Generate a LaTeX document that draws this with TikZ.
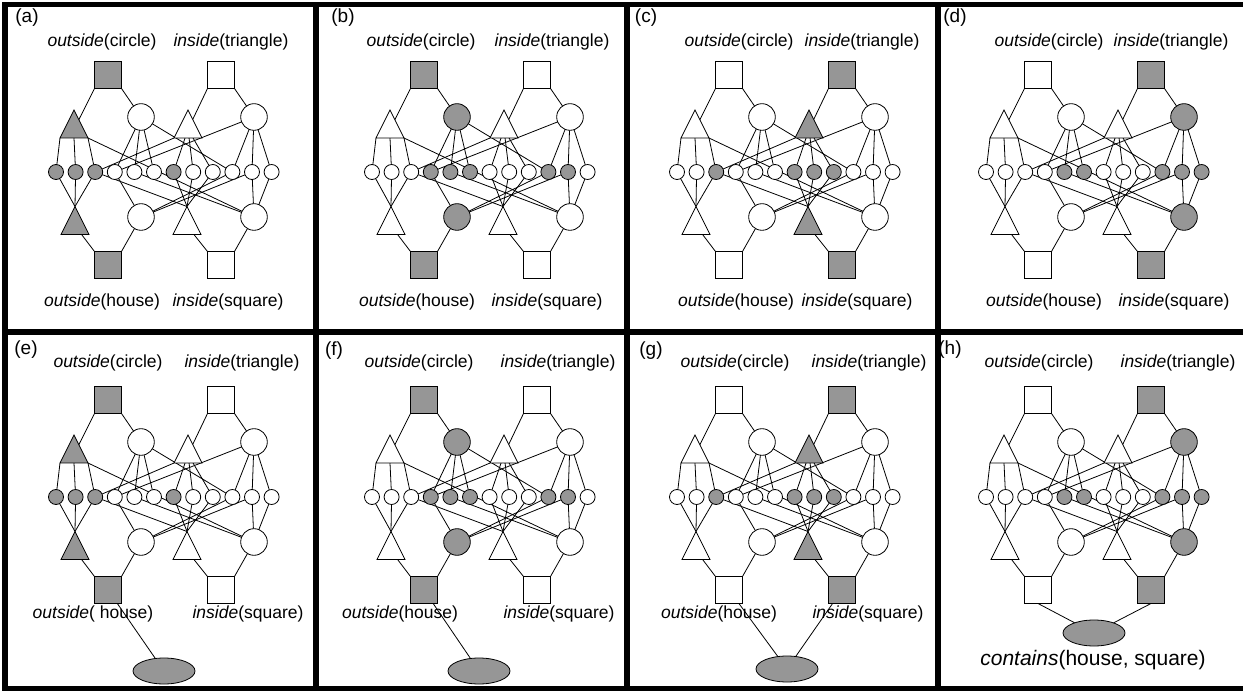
\documentclass[tikz,border=0pt]{standalone}
\usepackage{fontspec}
\setmainfont{Liberation Sans}
\usetikzlibrary{shapes.geometric}
\definecolor{gfill}{RGB}{150,150,150}
\pgfdeclarelayer{bg}
\pgfdeclarelayer{paper}
\pgfsetlayers{paper,bg,main}
\tikzset{
  nbase/.style={draw=black, line width=0.8pt, fill=white, inner sep=0pt, outer sep=0pt},
  sqn/.style={nbase, rectangle, minimum size=27pt},
  bign/.style={nbase, circle, minimum size=26.6pt},
  smalln/.style={nbase, circle, minimum size=15pt},
  trin/.style={nbase, isosceles triangle, isosceles triangle stretches, shape border rotate=90, minimum width=28pt, minimum height=28pt},
  elln/.style={nbase, ellipse, fill=gfill, minimum width=62pt, minimum height=26pt},
  con/.style={line width=0.8pt},
  lab/.style={font=\fontsize{17.5}{17.5}\selectfont, inner sep=0pt},
  plab/.style={font=\fontsize{19}{19}\selectfont, inner sep=0pt},
  biglab/.style={font=\fontsize{21}{21}\selectfont, inner sep=0pt},
  on/.style={fill=gfill},
  frameline/.style={line width=5.5pt, line cap=rect},
  st-SQ1/.style={}, st-SQ2/.style={}, st-SQ3/.style={}, st-SQ4/.style={},
  st-T1/.style={}, st-T2/.style={}, st-T3/.style={}, st-T4/.style={},
  st-C1/.style={}, st-C2/.style={}, st-C3/.style={}, st-C4/.style={},
  st-s1/.style={}, st-s2/.style={}, st-s3/.style={}, st-s4/.style={},
  st-s5/.style={}, st-s6/.style={}, st-s7/.style={}, st-s8/.style={},
  st-s9/.style={}, st-s10/.style={}, st-s11/.style={}, st-s12/.style={},
}
% one network, #1 = name prefix
\newcommand\netw[1]{%
  \node[sqn, st-SQ1] (#1SQ1) at (108,75) {};
  \node[sqn, st-SQ2] (#1SQ2) at (221,75) {};
  \node[trin, st-T1, anchor=apex] (#1T1) at (74,110) {};
  \node[bign, st-C1] (#1C1) at (141,117) {};
  \node[trin, st-T2, anchor=apex] (#1T2) at (188,110) {};
  \node[bign, st-C2] (#1C2) at (254,117) {};
  \node[smalln, st-s1] (#1s1) at (56,172) {};
  \node[smalln, st-s2] (#1s2) at (75.6,172) {};
  \node[smalln, st-s3] (#1s3) at (95.2,172) {};
  \node[smalln, st-s4] (#1s4) at (114.8,172) {};
  \node[smalln, st-s5] (#1s5) at (134.4,172) {};
  \node[smalln, st-s6] (#1s6) at (154,172) {};
  \node[smalln, st-s7] (#1s7) at (173.6,172) {};
  \node[smalln, st-s8] (#1s8) at (193.2,172) {};
  \node[smalln, st-s9] (#1s9) at (212.8,172) {};
  \node[smalln, st-s10] (#1s10) at (232.4,172) {};
  \node[smalln, st-s11] (#1s11) at (252,172) {};
  \node[smalln, st-s12] (#1s12) at (271.6,172) {};
  \node[trin, st-T3, anchor=apex] (#1T3) at (75,206.5) {};
  \node[bign, st-C3] (#1C3) at (141,217) {};
  \node[trin, st-T4, anchor=apex] (#1T4) at (187,206.5) {};
  \node[bign, st-C4] (#1C4) at (254,217) {};
  \node[sqn, st-SQ3] (#1SQ3) at (108,265) {};
  \node[sqn, st-SQ4] (#1SQ4) at (221,265) {};
  \begin{pgfonlayer}{bg}
  \draw[con] (#1SQ1.south west) -- (#1T1);
  \draw[con] (#1SQ1.south east) -- (#1C1);
  \draw[con] (#1SQ2.south west) -- (#1T2);
  \draw[con] (#1SQ2.south east) -- (#1C2);
  \draw[con] (#1SQ3.north west) -- (#1T3);
  \draw[con] (#1SQ3.north east) -- (#1C3);
  \draw[con] (#1SQ4.north west) -- (#1T4);
  \draw[con] (#1SQ4.north east) -- (#1C4);
  \draw[con] (#1T1.left corner) -- (#1s1);
  \draw[con] (#1T1.lower side) -- (#1s2);
  \draw[con] (#1T1.right corner) -- (#1s3);
  \draw[con] (#1T1.right corner) -- (#1C4);
  \draw[con] (#1C1) -- (#1s4);
  \draw[con] (#1C1) -- (#1s5);
  \draw[con] (#1C1) -- (#1s6);
  \draw[con] (#1C1) -- (#1s10);
  \draw[con] (#1T2) -- (#1s7);
  \draw[con] (#1T2) -- (#1s8);
  \draw[con] (#1T2) -- (#1s9);
  \draw[con] (#1s3) -- (#1T2.left corner);
  \draw[con] (#1C2) -- (#1s10);
  \draw[con] (#1C2) -- (#1s11);
  \draw[con] (#1C2) -- (#1s12);
  \draw[con] (#1s4) -- (#1C2);
  \draw[con] (#1s1) -- (#1T3.apex);
  \draw[con] (#1s2) -- (#1T3.apex);
  \draw[con] (#1s3) -- (#1T3.apex);
  \draw[con] (#1s4) -- (#1C3);
  \draw[con] (#1s10) -- (#1C3);
  \draw[con] (#1s11) -- (#1C3);
  \draw[con] (#1s7) -- (#1T4.apex);
  \draw[con] (#1s8) -- (#1T4.apex);
  \draw[con] (#1s9) -- (#1T4.apex);
  \draw[con] (#1s3) -- (#1T4.apex);
  \draw[con] (#1s5) -- (#1C4);
  \draw[con] (#1s11) -- (#1C4);
  \draw[con] (#1s12) -- (#1C4);
  \end{pgfonlayer}
}
\begin{document}
\begin{tikzpicture}[x=1pt, y=-1pt]
\useasboundingbox (0,0) rectangle (1243,692);
\clip (0,0) rectangle (1243,692);
\begin{pgfonlayer}{paper}
\fill[white] (0,0) rectangle (1243,692);
\end{pgfonlayer}

% ---------- top row ----------
\begin{scope}[st-SQ1/.style=on, st-T1/.style=on, st-T3/.style=on, st-SQ3/.style=on,
  st-s1/.style=on, st-s2/.style=on, st-s3/.style=on, st-s7/.style=on]
  \netw{a}
\end{scope}
\begin{scope}[shift={(316,0)}, st-SQ1/.style=on, st-C1/.style=on, st-C3/.style=on, st-SQ3/.style=on,
  st-s4/.style=on, st-s5/.style=on, st-s6/.style=on, st-s10/.style=on, st-s11/.style=on]
  \netw{b}
\end{scope}
\begin{scope}[shift={(621,0)}, st-SQ2/.style=on, st-T2/.style=on, st-T4/.style=on, st-SQ4/.style=on,
  st-s3/.style=on, st-s7/.style=on, st-s8/.style=on, st-s9/.style=on]
  \netw{c}
\end{scope}
\begin{scope}[shift={(930,0)}, st-SQ2/.style=on, st-C2/.style=on, st-C4/.style=on, st-SQ4/.style=on,
  st-s5/.style=on, st-s6/.style=on, st-s10/.style=on, st-s11/.style=on, st-s12/.style=on]
  \netw{d}
\end{scope}

% ---------- bottom row ----------
\begin{scope}[shift={(0,325)}, st-SQ1/.style=on, st-T1/.style=on, st-T3/.style=on, st-SQ3/.style=on,
  st-s1/.style=on, st-s2/.style=on, st-s3/.style=on, st-s7/.style=on]
  \netw{e}
\end{scope}
\begin{scope}[shift={(316,325)}, st-SQ1/.style=on, st-C1/.style=on, st-C3/.style=on, st-SQ3/.style=on,
  st-s4/.style=on, st-s5/.style=on, st-s6/.style=on, st-s10/.style=on, st-s11/.style=on]
  \netw{f}
\end{scope}
\begin{scope}[shift={(621,325)}, st-SQ2/.style=on, st-T2/.style=on, st-T4/.style=on, st-SQ4/.style=on,
  st-s3/.style=on, st-s7/.style=on, st-s8/.style=on, st-s9/.style=on]
  \netw{g}
\end{scope}
\begin{scope}[shift={(930,325)}, st-SQ2/.style=on, st-C2/.style=on, st-C4/.style=on, st-SQ4/.style=on,
  st-s5/.style=on, st-s6/.style=on, st-s10/.style=on, st-s11/.style=on, st-s12/.style=on]
  \netw{h}
\end{scope}

% ---------- ellipses ----------
\node[elln] (eE) at (164,671) {};
\node[elln] (fE) at (479,671) {};
\node[elln] (gE) at (787,669) {};
\node[elln] (hE) at (1094,633) {};
\begin{pgfonlayer}{bg}
\draw[con] (eSQ3.center) -- (eE);
\draw[con] (fSQ3.center) -- (fE);
\draw[con] (gSQ3.center) -- (gE);
\draw[con] (gSQ4.center) -- (gE);
\draw[con] (hSQ3.south) -- (hE);
\draw[con] (hSQ4.south) -- (hE);
\end{pgfonlayer}

% ---------- texts ----------
\node[plab] (la) at (27,18) {(a)};
\node[plab] (lb) at (343,18) {(b)};
\node[plab] (lc) at (646,18) {(c)};
\node[plab] (ld) at (955,18) {(d)};
\node[plab] (le) at (26,350) {(e)};
\node[plab] (lf) at (334,351) {(f)};
\node[plab] (lg) at (651,351) {(g)};
\node[plab] (lh) at (950,350) {(h)};

\node[lab] (a1) at (102,42) {\textit{outside}(circle)};
\node[lab] (a2) at (231,42) {\textit{inside}(triangle)};
\node[lab] (a3) at (102,302) {\textit{outside}(house)};
\node[lab] (a4) at (228,302) {\textit{inside}(square)};
\node[lab] (b1) at (421,42) {\textit{outside}(circle)};
\node[lab] (b2) at (552,42) {\textit{inside}(triangle)};
\node[lab] (b3) at (417,302) {\textit{outside}(house)};
\node[lab] (b4) at (547,302) {\textit{inside}(square)};
\node[lab] (c1) at (739,42) {\textit{outside}(circle)};
\node[lab] (c2) at (862,42) {\textit{inside}(triangle)};
\node[lab] (c3) at (736,302) {\textit{outside}(house)};
\node[lab] (c4) at (857,302) {\textit{inside}(square)};
\node[lab] (d1) at (1049,42) {\textit{outside}(circle)};
\node[lab] (d2) at (1171,42) {\textit{inside}(triangle)};
\node[lab] (d3) at (1044,302) {\textit{outside}(house)};
\node[lab] (d4) at (1174,302) {\textit{inside}(square)};

\node[lab] (e1) at (108,363) {\textit{outside}(circle)};
\node[lab] (e2) at (242,363) {\textit{inside}(triangle)};
\node[lab] (e3) at (93,614) {\textit{outside}( house)};
\node[lab] (e4) at (248,614) {\textit{inside}(square)};
\node[lab] (f1) at (419,363) {\textit{outside}(circle)};
\node[lab] (f2) at (558,363) {\textit{inside}(triangle)};
\node[lab] (f3) at (400,614) {\textit{outside}(house)};
\node[lab] (f4) at (559,614) {\textit{inside}(square)};
\node[lab] (g1) at (735,363) {\textit{outside}(circle)};
\node[lab] (g2) at (869,363) {\textit{inside}(triangle)};
\node[lab] (g3) at (719,614) {\textit{outside}(house)};
\node[lab] (g4) at (868,614) {\textit{inside}(square)};
\node[lab] (h1) at (1039,363) {\textit{outside}(circle)};
\node[lab] (h2) at (1178,363) {\textit{inside}(triangle)};
\node[biglab] (h3) at (1093,660) {\textit{contains}(house, square)};

% ---------- frames ----------
\draw[frameline] (5,4.5) -- (1250,4.5);
\draw[frameline] (5,4.5) -- (5,688.5);
\draw[frameline] (5,688.5) -- (1250,688.5);
\draw[frameline] (5,332) -- (1250,332);
\draw[frameline] (316,4.5) -- (316,688.5);
\draw[frameline] (627,4.5) -- (627,688.5);
\draw[frameline] (938,4.5) -- (938,688.5);
\end{tikzpicture}
\end{document}
